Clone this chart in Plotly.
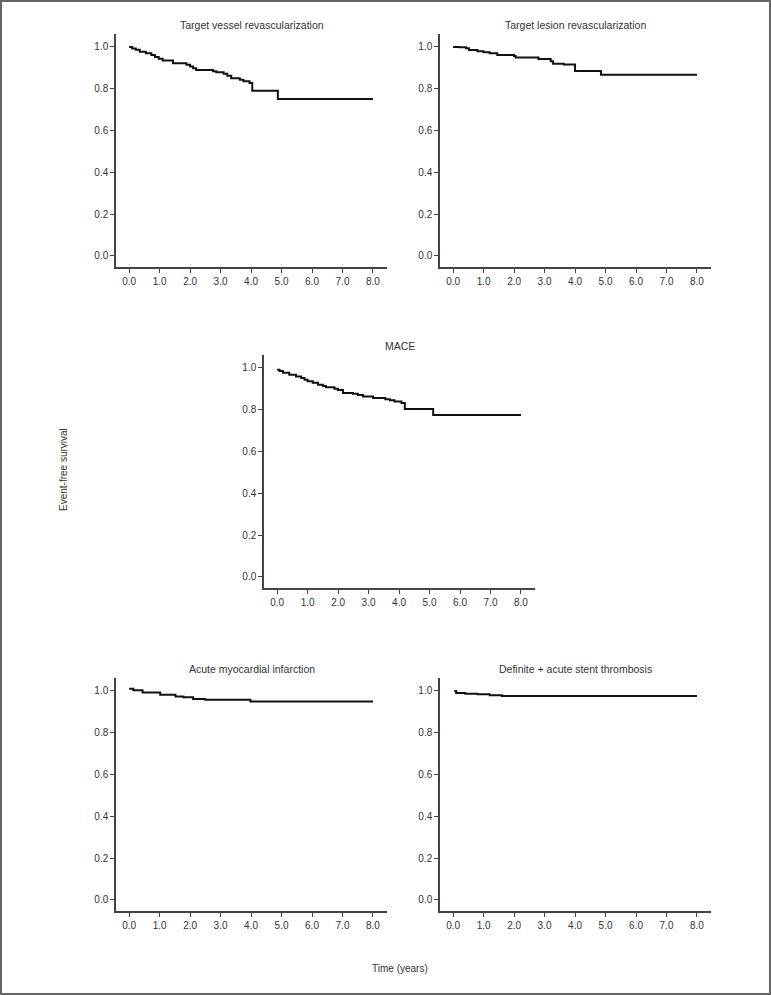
import plotly.graph_objects as go

# Kaplan-Meier estimates (time in years, event-free survival)
tvr_time = [0.00, 0.10, 0.22, 0.35, 0.55, 0.73, 0.85, 0.97, 1.10, 1.44, 1.88, 2.00, 2.10, 2.20,
            2.75, 2.86, 3.10, 3.22, 3.35, 3.63, 3.75, 3.95, 4.04, 4.88, 8.00]
tvr_surv = [1.000, 0.993, 0.987, 0.977, 0.970, 0.962, 0.952, 0.943, 0.935, 0.922, 0.915, 0.907, 0.898, 0.890,
            0.884, 0.879, 0.872, 0.862, 0.850, 0.843, 0.836, 0.827, 0.790, 0.751, 0.751]

tlr_time = [0.00, 0.20, 0.42, 0.52, 0.80, 1.00, 1.20, 1.45, 2.00, 2.05, 2.80, 3.20, 3.28, 3.63, 4.00, 4.85, 8.00]
tlr_surv = [1.000, 0.998, 0.994, 0.985, 0.980, 0.975, 0.970, 0.962, 0.957, 0.950, 0.942, 0.932, 0.920, 0.916,
            0.885, 0.867, 0.867]

mace_time = [0.00, 0.08, 0.19, 0.40, 0.62, 0.79, 0.90, 1.00, 1.17, 1.34, 1.50, 1.60, 1.88, 2.00, 2.16,
             2.49, 2.65, 2.82, 3.15, 3.55, 3.70, 3.85, 4.08, 4.19, 5.12, 8.00]
mace_surv = [0.992, 0.986, 0.977, 0.968, 0.959, 0.952, 0.944, 0.936, 0.929, 0.920, 0.914, 0.908, 0.901, 0.895, 0.880,
             0.876, 0.870, 0.864, 0.856, 0.850, 0.845, 0.839, 0.832, 0.804, 0.775, 0.775]

ami_time = [0.00, 0.14, 0.44, 1.02, 1.52, 1.78, 2.10, 2.50, 3.98, 8.00]
ami_surv = [1.010, 1.003, 0.993, 0.982, 0.974, 0.970, 0.962, 0.958, 0.949, 0.949]

st_time = [0.04, 0.10, 0.40, 0.80, 1.20, 1.60, 8.00]
st_surv = [1.000, 0.990, 0.987, 0.984, 0.980, 0.976, 0.976]

titles = ["Target vessel revascularization", "Target lesion revascularization", "MACE",
          "Acute myocardial infarction", "Definite + acute stent thrombosis"]
x_ticks = [0, 1, 2, 3, 4, 5, 6, 7, 8]
y_ticks = [0.0, 0.2, 0.4, 0.6, 0.8, 1.0]

W, H = 771, 995
FONT = "Liberation Sans Narrow, Arial Narrow, Liberation Sans, Arial, sans-serif"
AXC = "#444444"

# panel boxes in pixels: (left, right, top, bottom)
boxes = [(116, 387, 34, 267), (440, 711, 34, 267), (264, 535, 355, 588),
         (116, 387, 678, 911), (440, 711, 678, 911)]
series = [(tvr_time, tvr_surv), (tlr_time, tlr_surv), (mace_time, mace_surv),
          (ami_time, ami_surv), (st_time, st_surv)]

fig = go.Figure()
layout = dict(width=W, height=H, margin=dict(l=0, r=0, t=0, b=0),
              paper_bgcolor="white", plot_bgcolor="white", showlegend=False,
              font=dict(family=FONT, size=10, color="#333333"))
annotations = []

for i, ((l, r, t, b), (tx, sy)) in enumerate(zip(boxes, series)):
    n = "" if i == 0 else str(i + 1)
    fig.add_trace(go.Scatter(x=tx, y=sy, mode="lines", line=dict(color="#111111", width=2, shape="hv"),
                             xaxis="x" + n, yaxis="y" + n, hoverinfo="skip"))
    layout["xaxis" + n] = dict(domain=[l / W, r / W], range=[-0.43, 8.46], anchor="y" + n,
                               tickvals=x_ticks, tickformat=".1f", showgrid=False, zeroline=False,
                               showline=True, linecolor=AXC, linewidth=1.5,
                               ticks="outside", ticklen=4, tickcolor=AXC, tickwidth=1)
    layout["yaxis" + n] = dict(domain=[1 - b / H, 1 - t / H], range=[-0.053, 1.062], anchor="x" + n,
                               tickvals=y_ticks, tickformat=".1f", showgrid=False, zeroline=False,
                               showline=True, linecolor=AXC, linewidth=1.5,
                               ticks="outside", ticklen=4, tickcolor=AXC, tickwidth=1)
    annotations.append(dict(text=titles[i], x=(l + r) / 2 / W, y=1 - (t - 9) / H, xref="paper", yref="paper",
                            xanchor="center", yanchor="middle", showarrow=False,
                            font=dict(family=FONT, size=10.5, color="#333333")))

annotations.append(dict(text="Event-free survival", x=63 / W, y=1 - 470 / H, xref="paper", yref="paper",
                        textangle=-90, showarrow=False, xanchor="center", yanchor="middle",
                        font=dict(family=FONT, size=10, color="#333333")))
annotations.append(dict(text="Time (years)", x=400 / W, y=1 - 968 / H, xref="paper", yref="paper",
                        showarrow=False, xanchor="center", yanchor="middle",
                        font=dict(family=FONT, size=10, color="#333333")))
layout["annotations"] = annotations
layout["shapes"] = [dict(type="rect", xref="paper", yref="paper",
                         x0=1 / W, x1=1 - 1 / W, y0=1 / H, y1=1 - 1 / H,
                         line=dict(color="#666666", width=2))]

fig.update_layout(**layout)
fig.write_html("out.html", config={"displayModeBar": False},
               post_script="document.body.style.margin='0';document.body.style.overflow='hidden';")
